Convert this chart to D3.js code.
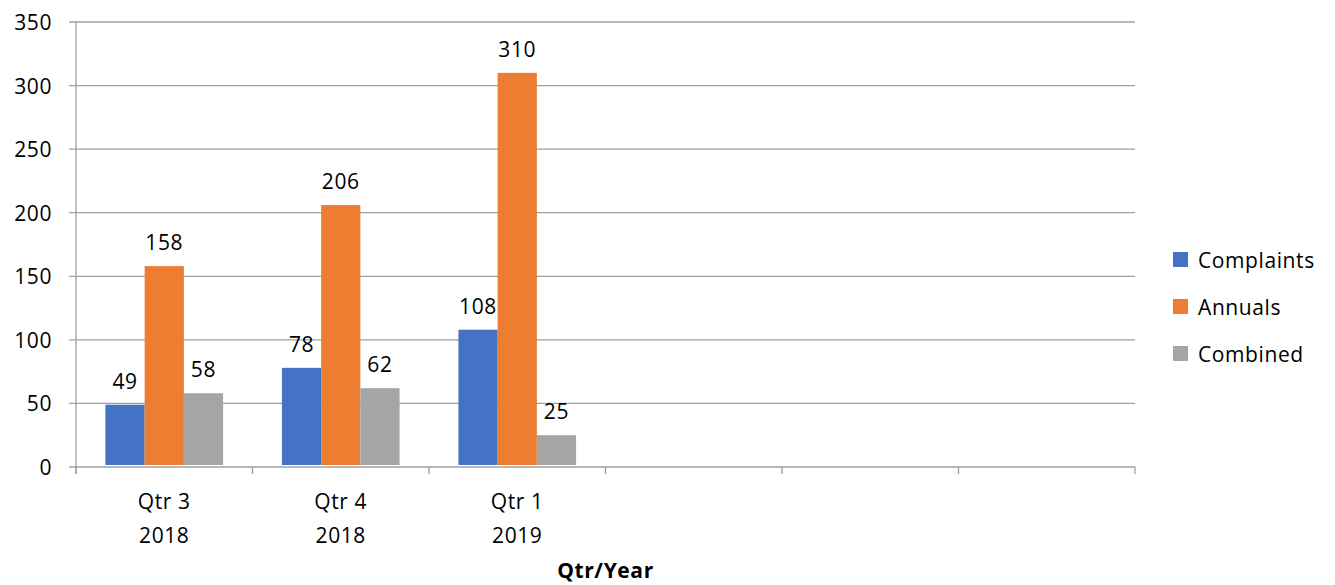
<!DOCTYPE html>
<html>
  <head>
    <meta charset="utf-8">
    <title>Qtr/Year</title>
    <script src="https://d3js.org/d3.v7.min.js"></script>
    <style>
      body { margin: 0; background: #fff; }
      svg text { font-family: "Open Sans", "Noto Sans", sans-serif; fill: #000; font-size: 21px; letter-spacing: 0.6px; }
    </style>
  </head>
  <body>
    <script>
      var categories = ["Qtr 3|2018", "Qtr 4|2018", "Qtr 1|2019", "", " ", "  "];
      var seriesNames = ["Complaints", "Annuals", "Combined"];
      var colors = ["#4472c4", "#ed7d31", "#a5a5a5"];
      var complaints = [49, 78, 108];
      var annuals = [158, 206, 310];
      var combined = [58, 62, 25];
      var yTicks = [0, 50, 100, 150, 200, 250, 300, 350];

      var width = 1335, height = 585;
      var mLeft = 76, mRight = 1135, mTop = 22, mBottom = 467;

      var svg = d3.select("body").append("svg")
          .attr("width", width)
          .attr("height", height);

      var x = d3.scaleBand().domain(categories).range([mLeft, mRight]);
      var inner = d3.scaleBand().domain(seriesNames)
          .range([0, x.bandwidth()]).paddingOuter(0.75).paddingInner(0);
      var y = d3.scaleLinear().domain([0, 350]).range([mBottom, mTop]);

      // gridlines
      svg.append("g").selectAll("line")
        .data(yTicks).enter().append("line")
        .attr("x1", mLeft - 7).attr("x2", mRight)
        .attr("y1", function(d) { return y(d); })
        .attr("y2", function(d) { return y(d); })
        .attr("stroke", "#a0a0a0").attr("stroke-width", 1.3);

      // y axis line
      svg.append("line")
        .attr("x1", mLeft).attr("x2", mLeft)
        .attr("y1", mTop).attr("y2", mBottom + 7)
        .attr("stroke", "#a0a0a0").attr("stroke-width", 1.3);

      // x ticks
      var ticksX = categories.map(function(c) { return x(c); }).concat([mRight]);
      svg.append("g").selectAll("line")
        .data(ticksX).enter().append("line")
        .attr("x1", function(d) { return d; }).attr("x2", function(d) { return d; })
        .attr("y1", mBottom).attr("y2", mBottom + 7)
        .attr("stroke", "#a0a0a0").attr("stroke-width", 1.3);

      svg.append("g").selectAll("text")
        .data(yTicks).enter().append("text")
        .attr("x", 52).attr("y", function(d) { return y(d) + 8; })
        .attr("text-anchor", "end")
        .text(function(d) { return d; });

      // bars
      var values = [complaints, annuals, combined];
      seriesNames.forEach(function(name, si) {
        var g = svg.append("g");
        var data = values[si].map(function(v, i) { return { c: categories[i], v: v }; });
        g.selectAll("rect").data(data).enter().append("rect")
          .attr("x", function(d) { return x(d.c) + inner(name); })
          .attr("width", inner.bandwidth())
          .attr("y", function(d) { return y(d.v); })
          .attr("height", function(d) { return y(0) - y(d.v) - 2; })
          .attr("fill", colors[si]);
        g.selectAll("text").data(data).enter().append("text")
          .attr("x", function(d) { return x(d.c) + inner(name) + inner.bandwidth() / 2; })
          .attr("y", function(d) { return y(d.v) - 16; })
          .attr("text-anchor", "middle")
          .text(function(d) { return d.v; });
      });

      // category labels
      categories.forEach(function(c) {
        if (!c.trim()) return;
        var parts = c.split("|");
        var t = svg.append("text")
          .attr("text-anchor", "middle");
        parts.forEach(function(p, i) {
          t.append("tspan")
            .attr("x", x(c) + x.bandwidth() / 2)
            .attr("y", 509 + i * 34)
            .text(p);
        });
      });

      svg.append("text")
        .attr("x", (mLeft + mRight) / 2).attr("y", 578)
        .attr("text-anchor", "middle")
        .attr("font-weight", "bold")
        .text("Qtr/Year");

      // legend
      var legend = svg.append("g").selectAll("g")
        .data(seriesNames).enter().append("g")
        .attr("transform", function(d, i) { return "translate(1173," + (252 + i * 47) + ")"; });
      legend.append("rect")
        .attr("width", 15).attr("height", 15)
        .attr("fill", function(d, i) { return colors[i]; });
      legend.append("text")
        .attr("x", 25).attr("y", 16)
        .text(function(d) { return d; });
    </script>
  </body>
</html>
